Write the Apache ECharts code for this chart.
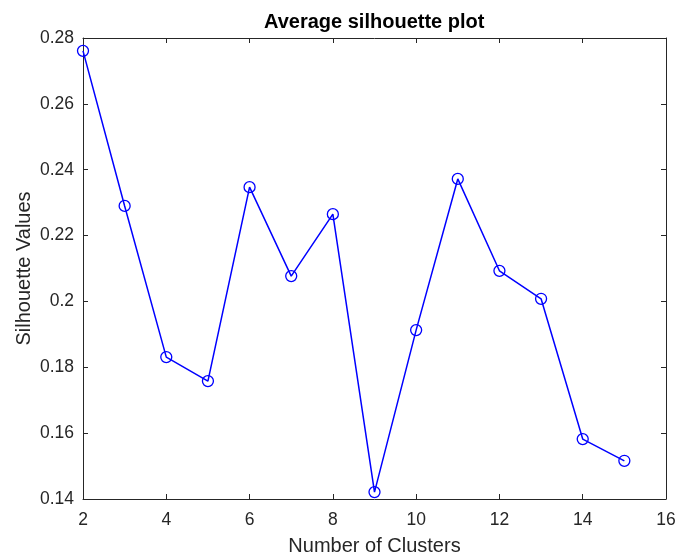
<!DOCTYPE html>
<html>
<head>
<meta charset="utf-8">
<script src="https://cdn.jsdelivr.net/npm/echarts@6/dist/echarts.min.js"></script>
<style>html,body{margin:0;padding:0;background:#fff;}#c{width:690px;height:557px;}</style>
</head>
<body>
<div id="c"></div>
<script>
var clusters = [2, 3, 4, 5, 6, 7, 8, 9, 10, 11, 12, 13, 14, 15];
var silhouette = [0.2761, 0.2290, 0.1831, 0.1758, 0.2347, 0.2077, 0.2265, 0.1421, 0.1913, 0.2372, 0.2093, 0.2008, 0.1582, 0.1516];
var titleText = 'Average silhouette plot';
var xName = 'Number of Clusters';
var yName = 'Silhouette Values';

var data = clusters.map(function (c, i) { return [c, silhouette[i]]; });
var axisColor = '#262626';
var font = 'Liberation Sans, Arial, sans-serif';

var chart = echarts.init(document.getElementById('c'), null, {renderer: 'canvas'});
var boxAxis = {
  axisLine: {show: true, lineStyle: {color: axisColor, width: 1}},
  axisTick: {show: true, inside: true, length: 5, lineStyle: {color: axisColor}},
  splitLine: {show: false}
};
chart.setOption({
  animation: false,
  backgroundColor: '#fff',
  title: {
    text: titleText, left: 259, top: 7, padding: 5,
    textStyle: {fontFamily: font, fontSize: 20, fontWeight: 'bold', color: '#000'}
  },
  grid: {left: 83, top: 38, width: 583, height: 461, containLabel: false, outerBoundsMode: 'none'},
  xAxis: [
    Object.assign({
      type: 'value', min: 2, max: 16, interval: 2, position: 'bottom',
      name: xName, nameLocation: 'middle', nameGap: 37, nameMoveOverlap: false,
      nameTextStyle: {fontFamily: font, fontSize: 20, color: axisColor},
      axisLabel: {fontFamily: font, fontSize: 17.5, color: axisColor, margin: 12}
    }, boxAxis),
    Object.assign({
      type: 'value', min: 2, max: 16, interval: 2, position: 'top',
      axisLabel: {show: false}
    }, boxAxis)
  ],
  yAxis: [
    Object.assign({
      type: 'value', min: 0.14, max: 0.28, interval: 0.02, position: 'left',
      name: yName, nameLocation: 'middle', nameGap: 49, nameMoveOverlap: false,
      nameTextStyle: {fontFamily: font, fontSize: 20, color: axisColor},
      axisLabel: {fontFamily: font, fontSize: 17.5, color: axisColor, margin: 9,
        formatter: function (v) { return String(parseFloat(v.toFixed(2))); }}
    }, boxAxis),
    Object.assign({
      type: 'value', min: 0.14, max: 0.28, interval: 0.02, position: 'right',
      axisLabel: {show: false}
    }, boxAxis)
  ],
  series: [{
    type: 'line',
    data: data,
    xAxisIndex: 0, yAxisIndex: 0,
    symbol: 'circle', symbolSize: 11,
    lineStyle: {color: '#0000ff', width: 1.5},
    itemStyle: {color: 'rgba(0,0,0,0)', borderColor: '#0000ff', borderWidth: 1.3},
    clip: false
  }]
});
</script>
</body>
</html>
